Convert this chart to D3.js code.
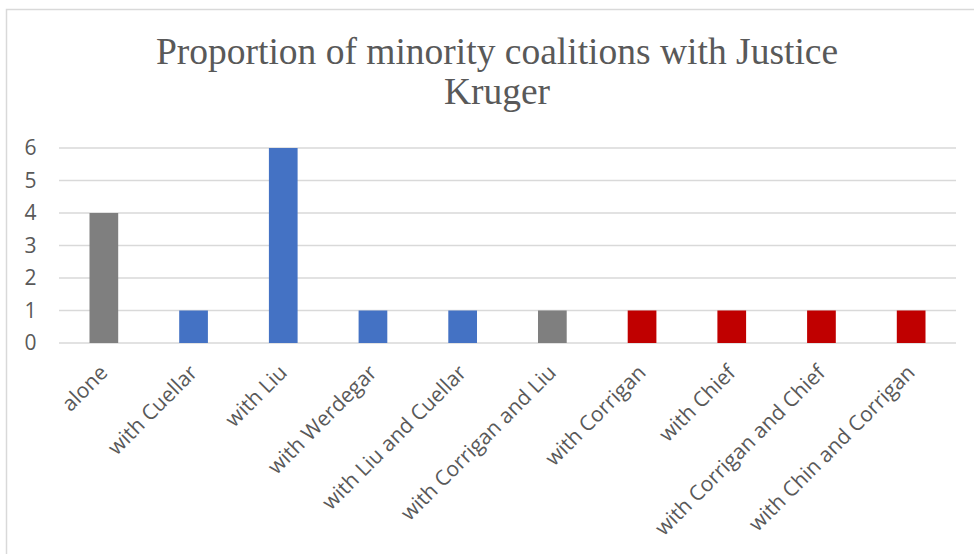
<!DOCTYPE html>
<html>
<head>
<meta charset="utf-8">
<script src="https://cdn.jsdelivr.net/npm/d3@7"></script>
<style>
  html, body { margin: 0; padding: 0; background: #fff; }
  svg { display: block; }
</style>
</head>
<body>
<svg id="chart" width="974" height="554"></svg>
<script>
const categories = ["alone", "with Cuellar", "with Liu", "with Werdegar", "with Liu and Cuellar",
  "with Corrigan and Liu", "with Corrigan", "with Chief", "with Corrigan and Chief", "with Chin and Corrigan"];
const values = [4, 1, 6, 1, 1, 1, 1, 1, 1, 1];
const colors = ["#7f7f7f", "#4472c4", "#4472c4", "#4472c4", "#4472c4",
  "#7f7f7f", "#c00000", "#c00000", "#c00000", "#c00000"];
const yTicks = [0, 1, 2, 3, 4, 5, 6];
const titleLines = ["Proportion of minority coalitions with Justice", "Kruger"];

(function () {
const svg = d3.select("#chart");
const W = 974, H = 554;
svg.append("rect").attr("x", 0).attr("y", 0).attr("width", W).attr("height", H).attr("fill", "#fff");

// chart border
svg.append("path")
  .attr("d", "M6.5,600 V9.5 H980")
  .attr("fill", "none").attr("stroke", "#d9d9d9").attr("stroke-width", 1.5);

const pLeft = 59, pRight = 956, pTop = 148, pBottom = 343;

const x = d3.scaleBand().domain(categories).range([pLeft, pRight]).paddingInner(0.68).paddingOuter(0.34);
const y = d3.scaleLinear().domain([0, 6]).range([pBottom, pTop]);

// title
const title = svg.append("text")
  .attr("text-anchor", "middle")
  .attr("font-family", "'Liberation Serif', 'Times New Roman', serif")
  .attr("font-size", 37.5)
  .attr("fill", "#595959");
titleLines.forEach((t, i) => {
  title.append("tspan").attr("x", 497).attr("y", 64 + i * 40).text(t);
});

// grid
svg.append("g").selectAll("line").data(yTicks).join("line")
  .attr("x1", pLeft).attr("x2", pRight)
  .attr("y1", d => y(d)).attr("y2", d => y(d))
  .attr("stroke", "#d9d9d9").attr("stroke-width", 1.5);

// y axis labels
const yAxis = d3.axisLeft(y).tickValues(yTicks).tickFormat(d3.format("d")).tickSize(0).tickPadding(0);
const ya = svg.append("g").attr("transform", `translate(${36.5},0)`).call(yAxis);
ya.select(".domain").remove();
ya.selectAll("text")
  .attr("font-family", "'Open Sans', 'Noto Sans', sans-serif")
  .attr("font-size", 21)
  .attr("fill", "#595959");

// bars
svg.append("g").selectAll("rect").data(values).join("rect")
  .attr("x", (d, i) => x(categories[i]))
  .attr("width", x.bandwidth())
  .attr("y", d => y(d))
  .attr("height", d => y(0) - y(d))
  .attr("fill", (d, i) => colors[i]);

// x axis labels
const xAxis = d3.axisBottom(x).tickSize(0).tickPadding(0);
const xa = svg.append("g").attr("transform", `translate(0,${pBottom})`).call(xAxis);
xa.select(".domain").remove();
xa.selectAll("text")
  .attr("font-family", "'Open Sans', 'Noto Sans', sans-serif")
  .attr("font-size", 21)
  .attr("fill", "#595959")
  .attr("text-anchor", "end")
  .attr("dy", null)
  .attr("y", 0)
  .attr("transform", "translate(5,31) rotate(-45)");
})();
</script>
</body>
</html>
